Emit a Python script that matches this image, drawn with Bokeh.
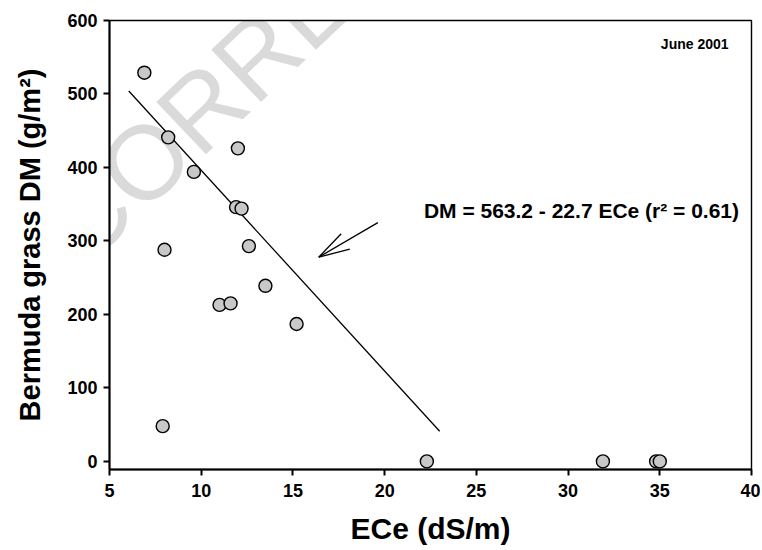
from bokeh.plotting import figure
from bokeh.models import Label, FixedTicker, Range1d
from bokeh.embed import file_html
from bokeh.resources import INLINE

# ---- data ----
ece = [6.9, 8.2, 12.0, 9.6, 11.9, 12.2, 8.0, 12.6, 11.0, 11.6, 13.5, 15.2, 7.9, 22.3, 31.9, 34.8, 35.0]
dm = [529, 441, 426, 394, 346, 344, 288, 293, 213, 215, 239, 187, 48, 0, 0, 0, 0]
fit_x = [6.05, 23.0]
fit_y = [504, 41]
x_ticks = [5, 10, 15, 20, 25, 30, 35, 40]
y_ticks = [0, 100, 200, 300, 400, 500, 600]
x_title = "ECe (dS/m)"
y_title = "Bermuda grass DM (g/m\u00b2)"
equation = "DM = 563.2 - 22.7 ECe (r\u00b2 = 0.61)"
period = "June 2001"
# arrow (tail -> tip, and two barbs from the tip)
arrow_xs = [[19.63, 16.41], [16.41, 17.63], [16.41, 18.10]]
arrow_ys = [[325, 278], [278, 309.8], [278, 288.8]]

FONT = "Liberation Sans"

p = figure(width=760, height=550, x_range=Range1d(5, 40), y_range=Range1d(-11, 600),
           output_backend="svg", toolbar_location=None,
           min_border_left=109, min_border_right=9, min_border_top=20, min_border_bottom=81)
p.grid.visible = False
p.background_fill_color = "white"
p.border_fill_color = "white"
p.outline_line_color = "black"
p.outline_line_width = 1.4

# watermark (translucent so black text stays black beneath it)
wm = Label(x=-3.67, y=156, text="UNCORRECTED PROOF", angle=0.76, angle_units="rad",
           text_font=FONT, text_font_size="105px", text_color="black", text_alpha=0.145,
           text_baseline="middle", text_align="left")
p.add_layout(wm)

p.xaxis.ticker = FixedTicker(ticks=x_ticks)
p.yaxis.ticker = FixedTicker(ticks=y_ticks)
for ax in (p.xaxis, p.yaxis):
    ax.axis_line_width = 2
    ax.axis_line_color = "black"
    ax.major_tick_line_width = 2
    ax.major_tick_out = 6
    ax.major_tick_in = 0
    ax.minor_tick_line_color = None
    ax.major_label_text_font = FONT
    ax.major_label_text_font_style = "bold"
    ax.major_label_text_font_size = "18px"
    ax.major_label_text_color = "black"
    ax.axis_label_text_font = FONT
    ax.axis_label_text_font_style = "bold"
    ax.axis_label_text_font_size = "29px"
    ax.axis_label_text_color = "black"

p.xaxis.axis_label = x_title
p.yaxis.axis_label = y_title
p.xaxis.axis_label_text_font_size = "30px"
p.xaxis.major_label_standoff = 8
p.yaxis.major_label_standoff = 6
p.xaxis.axis_label_standoff = 12
p.yaxis.axis_label_standoff = 18

p.line(fit_x, fit_y, line_color="black", line_width=1.3, level="overlay")
p.multi_line(arrow_xs, arrow_ys, line_color="black", line_width=1.3, level="overlay")
p.scatter(ece, dm, size=13, fill_color="#c8c8c8", line_color="black", line_width=1.4,
          level="overlay")

p.add_layout(Label(x=30.73, y=341.5, text=equation, text_font=FONT, text_font_style="bold",
                   text_font_size="21px", text_align="center", text_baseline="middle",
                   text_color="black"))
p.add_layout(Label(x=38.75, y=568.7, text=period, text_font=FONT, text_font_style="bold",
                   text_font_size="14px", text_align="right", text_baseline="middle",
                   text_color="black"))

open("out.html", "w").write(file_html(p, INLINE))
